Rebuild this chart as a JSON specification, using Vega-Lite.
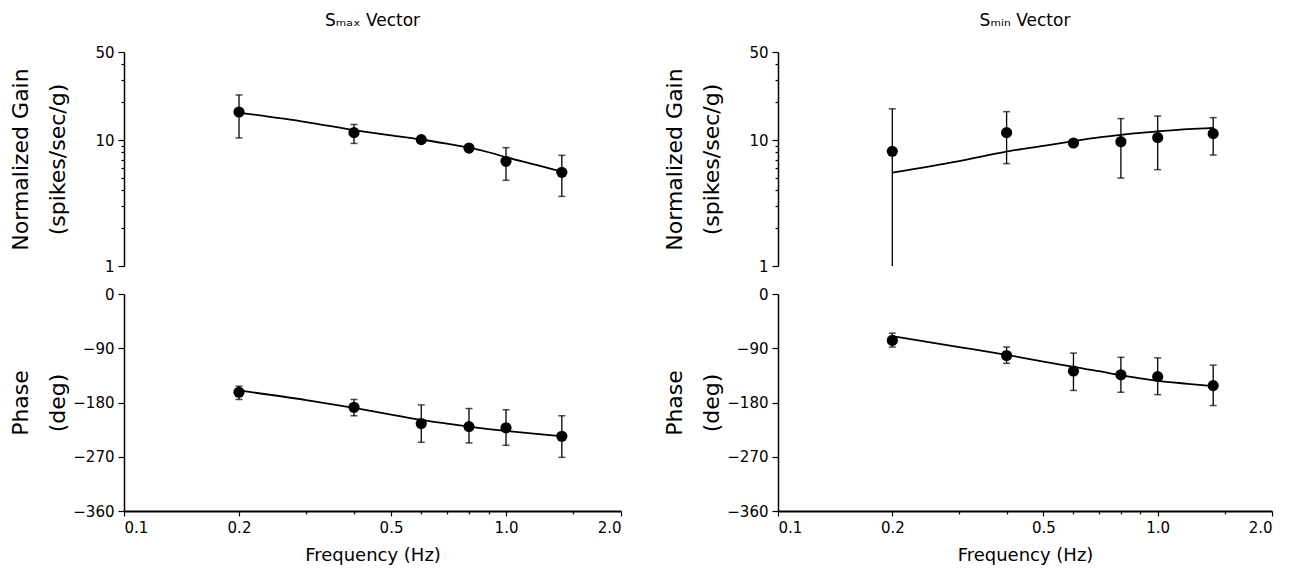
{
  "$schema": "https://vega.github.io/schema/vega-lite/v6.json",
  "background": "white",
  "padding": {"left": 8, "top": 12, "right": 5, "bottom": 3},
  "config": {
    "view": {"stroke": null},
    "axis": {
      "grid": false,
      "domainColor": "black",
      "domainWidth": 1.5,
      "tickColor": "black",
      "tickWidth": 1.2,
      "labelColor": "black",
      "labelFont": "DejaVu Sans",
      "labelFontSize": 15,
      "titleColor": "black",
      "titleFont": "DejaVu Sans",
      "titleFontWeight": "normal"
    },
    "title": {"font": "DejaVu Sans", "fontSize": 17, "fontWeight": "normal", "color": "black", "offset": 15}
  },
  "datasets": {
    "points": [
      {"vector": "Smax", "freq": 0.2, "gain": 16.7, "gainLo": 10.4, "gainHi": 22.8, "phase": -163, "phaseLo": -175, "phaseHi": -153},
      {"vector": "Smax", "freq": 0.4, "gain": 11.45, "gainLo": 9.4, "gainHi": 13.3, "phase": -188, "phaseLo": -202, "phaseHi": -175},
      {"vector": "Smax", "freq": 0.6, "gain": 10.07, "gainLo": 9.6, "gainHi": 10.5, "phase": -215, "phaseLo": -246, "phaseHi": -184},
      {"vector": "Smax", "freq": 0.8, "gain": 8.64, "gainLo": 8.3, "gainHi": 9.0, "phase": -220, "phaseLo": -247, "phaseHi": -190},
      {"vector": "Smax", "freq": 1.0, "gain": 6.78, "gainLo": 4.79, "gainHi": 8.7, "phase": -222, "phaseLo": -251, "phaseHi": -192},
      {"vector": "Smax", "freq": 1.4, "gain": 5.54, "gainLo": 3.57, "gainHi": 7.56, "phase": -236, "phaseLo": -271, "phaseHi": -202},
      {"vector": "Smin", "freq": 0.2, "gain": 8.13, "gainLo": 1.0, "gainHi": 17.7, "phase": -77, "phaseLo": -88, "phaseHi": -65},
      {"vector": "Smin", "freq": 0.4, "gain": 11.45, "gainLo": 6.5, "gainHi": 16.8, "phase": -102, "phaseLo": -115, "phaseHi": -88},
      {"vector": "Smin", "freq": 0.6, "gain": 9.47, "gainLo": 9.0, "gainHi": 9.9, "phase": -128, "phaseLo": -160, "phaseHi": -98},
      {"vector": "Smin", "freq": 0.8, "gain": 9.7, "gainLo": 4.99, "gainHi": 14.8, "phase": -134, "phaseLo": -163, "phaseHi": -105},
      {"vector": "Smin", "freq": 1.0, "gain": 10.45, "gainLo": 5.82, "gainHi": 15.5, "phase": -137, "phaseLo": -167, "phaseHi": -106},
      {"vector": "Smin", "freq": 1.4, "gain": 11.24, "gainLo": 7.6, "gainHi": 15.06, "phase": -152, "phaseLo": -185, "phaseHi": -118}
    ],
    "fit": [
      {"vector": "Smax", "freq": 0.2, "gain": 16.5, "phase": -160},
      {"vector": "Smax", "freq": 0.3, "gain": 13.9, "phase": -176},
      {"vector": "Smax", "freq": 0.4, "gain": 12.0, "phase": -189},
      {"vector": "Smax", "freq": 0.5, "gain": 10.9, "phase": -200},
      {"vector": "Smax", "freq": 0.6, "gain": 10.1, "phase": -209},
      {"vector": "Smax", "freq": 0.7, "gain": 9.35, "phase": -215},
      {"vector": "Smax", "freq": 0.8, "gain": 8.7, "phase": -220},
      {"vector": "Smax", "freq": 0.9, "gain": 8.0, "phase": -224},
      {"vector": "Smax", "freq": 1.0, "gain": 7.3, "phase": -227},
      {"vector": "Smax", "freq": 1.2, "gain": 6.35, "phase": -232},
      {"vector": "Smax", "freq": 1.4, "gain": 5.6, "phase": -236},
      {"vector": "Smin", "freq": 0.2, "gain": 5.5, "phase": -70},
      {"vector": "Smin", "freq": 0.3, "gain": 6.8, "phase": -88},
      {"vector": "Smin", "freq": 0.4, "gain": 8.1, "phase": -101},
      {"vector": "Smin", "freq": 0.5, "gain": 9.0, "phase": -112},
      {"vector": "Smin", "freq": 0.6, "gain": 9.8, "phase": -121},
      {"vector": "Smin", "freq": 0.7, "gain": 10.5, "phase": -128},
      {"vector": "Smin", "freq": 0.8, "gain": 11.0, "phase": -135},
      {"vector": "Smin", "freq": 0.9, "gain": 11.4, "phase": -140},
      {"vector": "Smin", "freq": 1.0, "gain": 11.7, "phase": -144},
      {"vector": "Smin", "freq": 1.2, "gain": 12.2, "phase": -149},
      {"vector": "Smin", "freq": 1.4, "gain": 12.5, "phase": -153}
    ]
  },
  "columns": 2,
  "spacing": {"row": 28, "column": 157},
  "bounds": "flush",
  "concat": [
    {
      "width": 497, "height": 214,
      "title": "Sₘₐₓ Vector",
      "encoding": {"x": {"field": "freq", "type": "quantitative", "scale": {"type": "log", "domain": [0.1, 2], "nice": false}, "axis": null}},
      "layer": [
        {"data": {"name": "fit"}, "transform": [{"filter": "datum.vector === 'Smax'"}],
         "mark": {"type": "line", "color": "black", "strokeWidth": 1.8, "interpolate": "monotone"},
         "encoding": {"y": {"field": "gain", "type": "quantitative", "scale": {"type": "log", "domain": [1, 50], "nice": false},
           "axis": {"title": ["Normalized  Gain", "(spikes/sec/g)"], "titleFontSize": 22, "titleLineHeight": 37, "titleX": -92,
             "values": [1, 2, 3, 4, 5, 6, 7, 8, 9, 10, 20, 30, 40, 50], "format": "~g",
             "labelExpr": "(datum.value == 1 || datum.value == 10 || datum.value == 50) ? datum.label : ''",
             "tickSize": {"condition": {"test": "datum.value == 1 || datum.value == 10 || datum.value == 50", "value": 6}, "value": 3},
             "labelPadding": 4}}}},
        {"data": {"name": "points"}, "transform": [{"filter": "datum.vector === 'Smax'"}],
         "mark": {"type": "rule", "color": "black", "strokeWidth": 1.3},
         "encoding": {"y": {"field": "gainLo", "type": "quantitative"}, "y2": {"field": "gainHi"}}},
        {"data": {"name": "points"}, "transform": [{"filter": "datum.vector === 'Smax'"}],
         "mark": {"type": "tick", "orient": "horizontal", "size": 7, "thickness": 1.5, "color": "black"},
         "encoding": {"y": {"field": "gainLo", "type": "quantitative"}}},
        {"data": {"name": "points"}, "transform": [{"filter": "datum.vector === 'Smax'"}],
         "mark": {"type": "tick", "orient": "horizontal", "size": 7, "thickness": 1.5, "color": "black"},
         "encoding": {"y": {"field": "gainHi", "type": "quantitative"}}},
        {"data": {"name": "points"}, "transform": [{"filter": "datum.vector === 'Smax'"}],
         "mark": {"type": "point", "filled": true, "color": "black", "opacity": 1, "size": 125},
         "encoding": {"y": {"field": "gain", "type": "quantitative"}}}
      ]
    },
    {
      "width": 494, "height": 214,
      "title": "Sₘᵢₙ Vector",
      "encoding": {"x": {"field": "freq", "type": "quantitative", "scale": {"type": "log", "domain": [0.1, 2], "nice": false}, "axis": null}},
      "layer": [
        {"data": {"name": "fit"}, "transform": [{"filter": "datum.vector === 'Smin'"}],
         "mark": {"type": "line", "color": "black", "strokeWidth": 1.8, "interpolate": "monotone"},
         "encoding": {"y": {"field": "gain", "type": "quantitative", "scale": {"type": "log", "domain": [1, 50], "nice": false},
           "axis": {"title": ["Normalized  Gain", "(spikes/sec/g)"], "titleFontSize": 22, "titleLineHeight": 37, "titleX": -92,
             "values": [1, 2, 3, 4, 5, 6, 7, 8, 9, 10, 20, 30, 40, 50], "format": "~g",
             "labelExpr": "(datum.value == 1 || datum.value == 10 || datum.value == 50) ? datum.label : ''",
             "tickSize": {"condition": {"test": "datum.value == 1 || datum.value == 10 || datum.value == 50", "value": 6}, "value": 3},
             "labelPadding": 4}}}},
        {"data": {"name": "points"}, "transform": [{"filter": "datum.vector === 'Smin'"}],
         "mark": {"type": "rule", "color": "black", "strokeWidth": 1.3},
         "encoding": {"y": {"field": "gainLo", "type": "quantitative"}, "y2": {"field": "gainHi"}}},
        {"data": {"name": "points"}, "transform": [{"filter": "datum.vector === 'Smin' && datum.gainLo > 1"}],
         "mark": {"type": "tick", "orient": "horizontal", "size": 7, "thickness": 1.5, "color": "black"},
         "encoding": {"y": {"field": "gainLo", "type": "quantitative"}}},
        {"data": {"name": "points"}, "transform": [{"filter": "datum.vector === 'Smin'"}],
         "mark": {"type": "tick", "orient": "horizontal", "size": 7, "thickness": 1.5, "color": "black"},
         "encoding": {"y": {"field": "gainHi", "type": "quantitative"}}},
        {"data": {"name": "points"}, "transform": [{"filter": "datum.vector === 'Smin'"}],
         "mark": {"type": "point", "filled": true, "color": "black", "opacity": 1, "size": 125},
         "encoding": {"y": {"field": "gain", "type": "quantitative"}}}
      ]
    },
    {
      "width": 497, "height": 217,
      "encoding": {"x": {"field": "freq", "type": "quantitative", "scale": {"type": "log", "domain": [0.1, 2], "nice": false},
        "axis": {"title": "Frequency (Hz)", "titleFontSize": 18, "titlePadding": 11, "domainWidth": 2,
          "values": [0.1, 0.2, 0.3, 0.4, 0.5, 0.6, 0.7, 0.8, 0.9, 1, 1.5, 2], "format": ".1f",
          "labelExpr": "(datum.value == 0.1 || datum.value == 0.2 || datum.value == 0.5 || datum.value == 1 || datum.value == 2) ? datum.label : ''",
          "tickSize": {"condition": {"test": "datum.value == 0.1 || datum.value == 0.2 || datum.value == 0.5 || datum.value == 1 || datum.value == 2", "value": 5}, "value": 3},
          "labelPadding": 4}}},
      "layer": [
        {"data": {"name": "fit"}, "transform": [{"filter": "datum.vector === 'Smax'"}],
         "mark": {"type": "line", "color": "black", "strokeWidth": 1.8, "interpolate": "monotone"},
         "encoding": {"y": {"field": "phase", "type": "quantitative", "scale": {"domain": [-360, 0], "nice": false},
           "axis": {"title": ["Phase", "(deg)"], "titleFontSize": 22, "titleLineHeight": 37, "titleX": -92,
             "values": [-360, -315, -270, -225, -180, -135, -90, -45, 0],
             "labelExpr": "(datum.value % 90 == 0) ? datum.label : ''",
             "tickSize": {"condition": {"test": "datum.value % 90 == 0", "value": 6}, "value": 3},
             "labelPadding": 4}}}},
        {"data": {"name": "points"}, "transform": [{"filter": "datum.vector === 'Smax'"}],
         "mark": {"type": "rule", "color": "black", "strokeWidth": 1.3},
         "encoding": {"y": {"field": "phaseLo", "type": "quantitative"}, "y2": {"field": "phaseHi"}}},
        {"data": {"name": "points"}, "transform": [{"filter": "datum.vector === 'Smax'"}],
         "mark": {"type": "tick", "orient": "horizontal", "size": 7, "thickness": 1.5, "color": "black"},
         "encoding": {"y": {"field": "phaseLo", "type": "quantitative"}}},
        {"data": {"name": "points"}, "transform": [{"filter": "datum.vector === 'Smax'"}],
         "mark": {"type": "tick", "orient": "horizontal", "size": 7, "thickness": 1.5, "color": "black"},
         "encoding": {"y": {"field": "phaseHi", "type": "quantitative"}}},
        {"data": {"name": "points"}, "transform": [{"filter": "datum.vector === 'Smax'"}],
         "mark": {"type": "point", "filled": true, "color": "black", "opacity": 1, "size": 125},
         "encoding": {"y": {"field": "phase", "type": "quantitative"}}}
      ]
    },
    {
      "width": 494, "height": 217,
      "encoding": {"x": {"field": "freq", "type": "quantitative", "scale": {"type": "log", "domain": [0.1, 2], "nice": false},
        "axis": {"title": "Frequency (Hz)", "titleFontSize": 18, "titlePadding": 11, "domainWidth": 2,
          "values": [0.1, 0.2, 0.3, 0.4, 0.5, 0.6, 0.7, 0.8, 0.9, 1, 1.5, 2], "format": ".1f",
          "labelExpr": "(datum.value == 0.1 || datum.value == 0.2 || datum.value == 0.5 || datum.value == 1 || datum.value == 2) ? datum.label : ''",
          "tickSize": {"condition": {"test": "datum.value == 0.1 || datum.value == 0.2 || datum.value == 0.5 || datum.value == 1 || datum.value == 2", "value": 5}, "value": 3},
          "labelPadding": 4}}},
      "layer": [
        {"data": {"name": "fit"}, "transform": [{"filter": "datum.vector === 'Smin'"}],
         "mark": {"type": "line", "color": "black", "strokeWidth": 1.8, "interpolate": "monotone"},
         "encoding": {"y": {"field": "phase", "type": "quantitative", "scale": {"domain": [-360, 0], "nice": false},
           "axis": {"title": ["Phase", "(deg)"], "titleFontSize": 22, "titleLineHeight": 37, "titleX": -92,
             "values": [-360, -315, -270, -225, -180, -135, -90, -45, 0],
             "labelExpr": "(datum.value % 90 == 0) ? datum.label : ''",
             "tickSize": {"condition": {"test": "datum.value % 90 == 0", "value": 6}, "value": 3},
             "labelPadding": 4}}}},
        {"data": {"name": "points"}, "transform": [{"filter": "datum.vector === 'Smin'"}],
         "mark": {"type": "rule", "color": "black", "strokeWidth": 1.3},
         "encoding": {"y": {"field": "phaseLo", "type": "quantitative"}, "y2": {"field": "phaseHi"}}},
        {"data": {"name": "points"}, "transform": [{"filter": "datum.vector === 'Smin'"}],
         "mark": {"type": "tick", "orient": "horizontal", "size": 7, "thickness": 1.5, "color": "black"},
         "encoding": {"y": {"field": "phaseLo", "type": "quantitative"}}},
        {"data": {"name": "points"}, "transform": [{"filter": "datum.vector === 'Smin'"}],
         "mark": {"type": "tick", "orient": "horizontal", "size": 7, "thickness": 1.5, "color": "black"},
         "encoding": {"y": {"field": "phaseHi", "type": "quantitative"}}},
        {"data": {"name": "points"}, "transform": [{"filter": "datum.vector === 'Smin'"}],
         "mark": {"type": "point", "filled": true, "color": "black", "opacity": 1, "size": 125},
         "encoding": {"y": {"field": "phase", "type": "quantitative"}}}
      ]
    }
  ]
}
